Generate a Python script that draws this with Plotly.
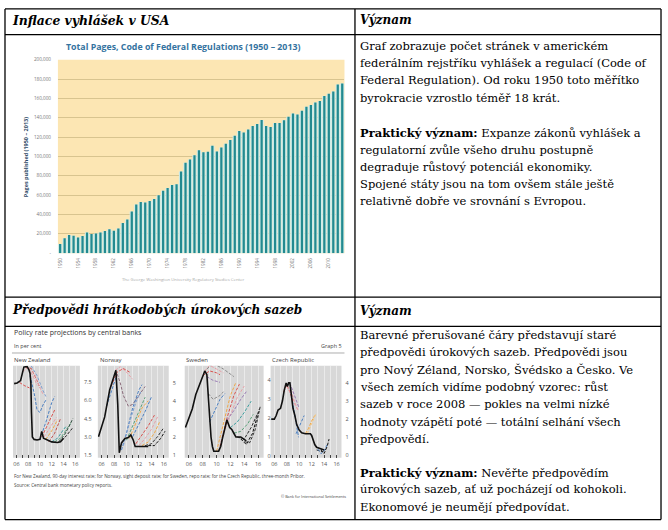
import plotly.graph_objects as go

W, H = 668, 530
def fx(x): return x / W
def fy(y): return 1 - y / H

# ---------------- DATA ----------------
cfr_years = list(range(1950, 2014))
cfr_pages = [9500, 15300, 18700, 18000, 16300, 17700, 21400, 19700, 20400, 21400,
             22800, 24800, 23100, 25500, 31300, 34700, 43200, 50300, 53000, 52400,
             54000, 56000, 60000, 64600, 67300, 70400, 71400, 84400, 93500, 97000,
             101400, 106500, 104400, 104800, 111200, 105100, 109200, 113300, 117000, 121400,
             126500, 124800, 128000, 131600, 133700, 137800, 131600, 130600, 134700, 134700,
             137400, 141200, 144600, 143500, 147300, 151400, 153400, 155800, 157500, 162600,
             165000, 167300, 174500, 175500]
cfr_ytickvals = [0, 20000, 40000, 60000, 80000, 100000, 120000, 140000, 160000, 180000, 200000]
cfr_yticktext = ["-", "20,000", "40,000", "60,000", "80,000", "100,000", "120,000",
                 "140,000", "160,000", "180,000", "200,000"]
cfr_xtickvals = list(range(1950, 2014, 4))

countries = ["New Zealand", "Norway", "Sweden", "Czech Republic"]

nz_x = [2005.6, 2006.1, 2006.7, 2007.0, 2007.25, 2007.8, 2008.1, 2008.3, 2008.45, 2008.55, 2008.7,
        2009.0, 2009.5, 2010.0, 2010.3, 2010.6, 2011.0, 2011.5, 2012.0, 2013.0, 2013.5, 2014.0]
nz_y = [7.35, 7.4, 7.6, 8.3, 8.7, 8.75, 8.5, 8.2, 7.4, 5.0, 3.0,
        2.8, 2.75, 2.8, 3.45, 2.9, 2.8, 2.7, 2.6, 2.55, 2.6, 2.9]
no_x = [2005.5, 2006.5, 2007.3, 2007.7, 2008.15, 2008.3, 2008.6, 2008.85, 2009.2, 2009.75,
        2010.3, 2010.7, 2011.1, 2011.4, 2012.2, 2013.0, 2013.5]
no_y = [2.0, 3.1, 4.6, 5.05, 5.5, 5.7, 3.8, 1.1, 1.65, 1.9,
        1.95, 2.1, 1.8, 1.45, 1.45, 1.45, 1.45]
se_x = [2005.5, 2006.0, 2006.5, 2007.0, 2007.5, 2008.0, 2008.3, 2008.6, 2008.8, 2009.0, 2009.2,
        2009.4, 2009.6, 2010.3, 2010.6, 2010.9, 2011.2, 2011.5, 2011.9, 2012.2, 2012.5, 2012.8,
        2013.5, 2014.0, 2014.3]
se_y = [1.5, 2.0, 2.5, 3.25, 3.75, 4.25, 4.5, 4.3, 3.0, 2.0, 1.0,
        0.5, 0.25, 0.25, 0.5, 1.0, 1.5, 1.9, 1.5, 1.4, 1.2, 1.0,
        1.0, 0.9, 0.8]
cz_x = [2005.5, 2006.0, 2006.3, 2006.6, 2007.0, 2007.3, 2007.6, 2007.9, 2008.1, 2008.3, 2008.5,
        2008.8, 2009.0, 2009.3, 2009.6, 2010.0, 2010.4, 2011.0, 2011.8, 2012.0, 2012.2, 2012.5,
        2012.8, 2013.2, 2013.6, 2014.0]
cz_y = [2.0, 2.0, 2.2, 2.5, 2.6, 3.0, 3.6, 4.0, 3.8, 4.0, 4.0,
        3.3, 2.6, 2.2, 1.7, 1.4, 1.25, 1.2, 1.2, 1.1, 0.9, 0.6,
        0.45, 0.4, 0.35, 0.3]

nz_proj = [
    ([2006.5, 2007.3, 2008.2], [7.45, 7.2, 7.0]),
    ([2007.0, 2008.0, 2009.0, 2009.5], [8.3, 8.7, 7.8, 7.2]),
    ([2007.5, 2008.5, 2009.5, 2010.0], [8.7, 8.6, 7.6, 7.0]),
    ([2008.0, 2009.0, 2010.0, 2010.5], [8.6, 8.2, 7.0, 6.5]),
    ([2008.3, 2009.0, 2009.5, 2010.0, 2010.5, 2011.0], [8.0, 6.6, 5.2, 5.0, 5.6, 6.0]),
    ([2008.5, 2009.5, 2010.5, 2011.0], [8.8, 8.0, 6.8, 6.3]),
    ([2010.0, 2011.0, 2012.0, 2012.5], [2.8, 4.2, 5.8, 6.3]),
    ([2010.3, 2011.5, 2012.5], [3.0, 4.2, 5.2]),
    ([2010.7, 2011.7, 2012.8], [3.0, 3.8, 4.6]),
    ([2011.0, 2012.0, 2013.0], [2.8, 3.5, 4.4]),
    ([2011.5, 2012.5, 2013.5], [2.6, 3.3, 4.5]),
    ([2012.0, 2013.0, 2014.0, 2014.5], [2.6, 2.9, 3.6, 3.9]),
    ([2012.5, 2013.5, 2014.5, 2015.2], [2.6, 2.9, 3.6, 4.1]),
    ([2013.2, 2014.2, 2015.0, 2015.6], [2.6, 3.2, 3.9, 4.5]),
    ([2013.7, 2014.5, 2015.5], [2.7, 3.1, 3.7]),
]
nz_proj_colors = ["#D9534F", "#E8A0A8", "#C0504D", "#E8A0A8", "#4A7FC1", "#7F9FCF", "#4A7FC1",
                  "#D9534F", "#E8A0A8", "#F0A848", "#C0504D", "#3E9FA0", "#5BA27A", "#2A4A3A", "#222222"]

no_proj = [
    ([2006.8, 2007.5, 2008.3], [3.7, 4.5, 5.3]),
    ([2007.5, 2008.5, 2009.5, 2010.5], [4.8, 5.6, 5.8, 5.6]),
    ([2008.2, 2009.0, 2010.0, 2011.0], [5.7, 5.9, 5.6, 5.2]),
    ([2008.5, 2009.0, 2009.5, 2010.3, 2011.0, 2012.0, 2013.0], [5.5, 5.0, 4.3, 3.7, 3.8, 4.3, 4.8]),
    ([2009.2, 2010.0, 2011.0, 2012.0, 2012.5], [1.25, 2.2, 3.6, 4.6, 4.9]),
    ([2009.5, 2010.5, 2011.5, 2012.3], [1.5, 2.8, 3.9, 4.5]),
    ([2010.0, 2011.0, 2012.0, 2013.0], [1.8, 2.6, 3.5, 4.2]),
    ([2010.5, 2011.5, 2012.5, 2013.5], [1.9, 2.7, 3.6, 4.0]),
    ([2011.0, 2012.0, 2013.0, 2014.0], [2.0, 2.7, 3.4, 4.2]),
    ([2011.5, 2012.5, 2013.5, 2014.5], [1.6, 2.1, 2.6, 3.2]),
    ([2012.0, 2013.0, 2014.0, 2015.0], [1.5, 1.9, 2.4, 3.1]),
    ([2012.5, 2013.5, 2014.5, 2015.3], [1.5, 1.7, 2.2, 2.8]),
    ([2013.0, 2014.0, 2015.0, 2016.0], [1.5, 1.6, 2.0, 2.5]),
    ([2013.5, 2014.5, 2015.5, 2016.2], [1.5, 1.5, 1.9, 2.3]),
]
no_proj_colors = ["#4A7FC1", "#D9534F", "#E8A0A8", "#8A6A7A", "#4A7FC1", "#7F9FCF", "#5BA27A",
                  "#F0A848", "#4A7FC1", "#D9534F", "#E8A0A8", "#F0A848", "#2A2A2A", "#111111"]

se_proj = [
    ([2008.0, 2009.0, 2010.0, 2010.5], [4.25, 4.5, 4.4, 4.3]),
    ([2008.3, 2009.0, 2010.0, 2011.0], [4.5, 4.8, 4.6, 4.4]),
    ([2008.6, 2009.5, 2011.0, 2012.5], [4.6, 4.9, 4.6, 4.2]),
    ([2008.6, 2009.5, 2010.5], [4.2, 4.0, 3.9]),
    ([2008.8, 2009.5, 2010.5, 2011.0], [3.3, 3.0, 3.2, 3.4]),
    ([2009.0, 2009.7, 2010.5, 2011.2], [1.8, 2.4, 3.0, 3.3]),
    ([2010.0, 2011.0, 2012.0, 2012.8], [0.25, 1.8, 3.2, 3.9]),
    ([2010.5, 2011.5, 2012.5, 2013.3], [0.5, 2.0, 3.2, 3.8]),
    ([2011.0, 2012.0, 2013.0, 2014.0], [1.2, 2.2, 3.1, 3.7]),
    ([2011.5, 2012.5, 2013.5, 2014.3], [1.9, 2.4, 3.0, 3.4]),
    ([2012.0, 2013.0, 2014.0, 2015.0], [1.5, 1.8, 2.3, 2.9]),
    ([2012.5, 2013.5, 2014.5, 2015.3], [1.2, 1.3, 1.7, 2.2]),
    ([2013.0, 2014.0, 2015.0, 2016.0], [1.0, 0.9, 1.5, 2.3]),
    ([2013.5, 2014.3, 2015.2, 2016.2], [0.9, 0.6, 1.2, 2.5]),
    ([2014.0, 2014.8, 2015.6, 2016.3], [0.75, 0.7, 1.4, 2.6]),
]
se_proj_colors = ["#D9534F", "#E8A0A8", "#8A8A8A", "#9A7CB5", "#8A8A8A", "#4A7FC1", "#F0A848",
                  "#D9534F", "#E8A0A8", "#9A7CB5", "#3E9FA0", "#5BA27A", "#2A2A2A", "#111111", "#333333"]

cz_proj = [
    ([2007.5, 2008.0, 2008.5, 2009.0], [3.5, 3.9, 3.5, 3.0]),
    ([2008.0, 2008.7, 2009.3, 2009.8], [3.8, 3.4, 2.8, 2.5]),
    ([2008.5, 2009.0, 2009.5, 2010.0], [4.0, 3.5, 3.0, 2.6]),
    ([2008.7, 2009.2, 2009.8], [3.6, 3.0, 2.5]),
    ([2008.9, 2009.3, 2009.6, 2009.9], [3.0, 2.3, 1.6, 1.0]),
    ([2009.5, 2010.0, 2010.5, 2010.8], [1.2, 1.6, 2.0, 2.2]),
    ([2011.0, 2011.5, 2012.0, 2012.5], [1.2, 1.5, 1.9, 2.2]),
    ([2011.3, 2011.8, 2012.3, 2012.7], [1.2, 1.6, 2.0, 2.3]),
    ([2012.8, 2013.3, 2013.8, 2014.3], [0.3, 0.25, 0.2, 0.35]),
    ([2013.0, 2013.5, 2014.0, 2014.5], [0.35, 0.1, 0.25, 0.6]),
    ([2013.5, 2014.0, 2014.5, 2014.8], [0.3, 0.1, 0.5, 0.9]),
]
cz_proj_colors = ["#D9534F", "#E8A0A8", "#9A7CB5", "#E8A0A8", "#4A7FC1", "#4A7FC1", "#F0A848",
                  "#F5C880", "#2A2A2A", "#4A7FC1", "#111111"]

panel_ytickvals = [[1.5, 3.0, 4.5, 6.0, 7.5], [1, 2, 3, 4, 5], [0, 1, 2, 3, 4], [0, 1, 2, 3, 4]]
panel_yticktext = [["1.5", "3.0", "4.5", "6.0", "7.5"], ["1", "2", "3", "4", "5"],
                   ["0", "1", "2", "3", "4"], ["0", "1", "2", "3", "4"]]
panel_xtickvals = list(range(2006, 2017))
panel_xticktext = ["06", "", "08", "", "10", "", "12", "", "14", "", "16"]

text_r1 = ["Graf zobrazuje počet stránek v americkém",
           "federálním rejstříku vyhlášek a regulací (Code of",
           "Federal Regulation). Od roku 1950 toto měřítko",
           "byrokracie vzrostlo téměř 18 krát.",
           "<b>Praktický význam:</b> Expanze zákonů vyhlášek a",
           "regulatorní zvůle všeho druhu postupně",
           "degraduje růstový potenciál ekonomiky.",
           "Spojené státy jsou na tom ovšem stále ještě",
           "relativně dobře ve srovnání s Evropou."]
text_r2 = ["Barevné přerušované čáry představují staré",
           "předpovědi úrokových sazeb. Předpovědi jsou",
           "pro Nový Zéland, Norsko, Švédsko a Česko. Ve",
           "všech zemích vidíme podobný vzorec: růst",
           "sazeb v roce 2008 — pokles na velmi nízké",
           "hodnoty vzápětí poté — totální selhání všech",
           "předpovědí.",
           "<b>Praktický význam:</b> Nevěřte předpovědím",
           "úrokových sazeb, ať už pocházejí od kohokoli.",
           "Ekonomové je neumějí předpovídat."]

# ---------------- FIGURE ----------------
fig = go.Figure()
shapes = []
ann = []

# Chart 1: CFR pages
fig.add_trace(go.Bar(x=cfr_years, y=cfr_pages, width=0.95, marker=dict(color="#CFEDEC", line=dict(width=0)),
                     xaxis="x", yaxis="y", hoverinfo="skip"))
fig.add_trace(go.Bar(x=cfr_years, y=cfr_pages, width=0.5, marker=dict(color="#238A8F", line=dict(width=0)),
                     xaxis="x", yaxis="y"))

layout = dict(
    width=W, height=H, margin=dict(l=0, r=0, t=0, b=0),
    paper_bgcolor="white", plot_bgcolor="rgba(0,0,0,0)",
    showlegend=False, barmode="overlay",
    xaxis=dict(domain=[fx(57), fx(344)], range=[1949.5, 2013.5], tickvals=cfr_xtickvals,
               tickangle=-90, tickfont=dict(size=4.6, color="#777", family="Open Sans"),
               showgrid=False, zeroline=False, showline=False, ticks="", anchor="y",
               ticklabelstandoff=3),
    yaxis=dict(domain=[fy(253), fy(57.5)], range=[0, 200000], tickvals=cfr_ytickvals,
               ticktext=cfr_yticktext, tickfont=dict(size=4.6, color="#777", family="Open Sans"),
               showgrid=True, gridcolor="#D8C48F", gridwidth=1, zeroline=False, showline=False,
               ticks="", anchor="x", ticklabelstandoff=6),
)
shapes.append(dict(type="rect", xref="x domain", yref="y domain", x0=0, x1=1, y0=0, y1=1,
                   fillcolor="#FCE6B3", line=dict(width=0), layer="below"))

ann.append(dict(text="<b>Total Pages, Code of Federal Regulations (1950 – 2013)</b>", x=fx(182), y=fy(45),
                xref="paper", yref="paper", showarrow=False, xanchor="center", yanchor="middle",
                font=dict(size=8.8, color="#3473A0", family="Open Sans")))
ann.append(dict(text="<b>Pages published (1950 – 2013)</b>", x=fx(25), y=fy(156), textangle=-90,
                xref="paper", yref="paper", showarrow=False, xanchor="center", yanchor="middle",
                font=dict(size=5.5, color="#2E4A66", family="Open Sans")))
ann.append(dict(text="The George Washington University Regulatory Studies Center", x=fx(182), y=fy(279),
                xref="paper", yref="paper", showarrow=False, xanchor="center", yanchor="middle",
                font=dict(size=4.3, color="#AAAAAA", family="Open Sans")))

# Chart 2 panels
panel_x = [(12, 79), (97, 168), (184, 263), (270, 341)]
panel_title_x = [11, 97, 183, 269]
panel_yrange = [[1.3, 8.8], [0.82, 5.95], [-0.1, 4.77], [-0.13, 4.94]]
actual = [(nz_x, nz_y), (no_x, no_y), (se_x, se_y), (cz_x, cz_y)]
projs = [(nz_proj, nz_proj_colors), (no_proj, no_proj_colors), (se_proj, se_proj_colors), (cz_proj, cz_proj_colors)]

for i in range(4):
    xa = "x%d" % (i + 2)
    ya = "y%d" % (i + 2)
    pj, pc = projs[i]
    for (px_, py_), c in zip(pj, pc):
        fig.add_trace(go.Scatter(x=px_, y=py_, mode="lines", xaxis=xa, yaxis=ya,
                                 line=dict(color=c, width=1, dash="3px,1.5px")))
    ax_, ay_ = actual[i]
    fig.add_trace(go.Scatter(x=ax_, y=ay_, mode="lines", xaxis=xa, yaxis=ya,
                             line=dict(color="#111111", width=1.6)))
    x0, x1 = panel_x[i]
    layout["xaxis%d" % (i + 2)] = dict(
        domain=[fx(x0), fx(x1)], range=[2005.4, 2016.8], anchor=ya,
        tickvals=panel_xtickvals, ticktext=panel_xticktext, ticks="inside", ticklen=3,
        tickcolor="#444", tickwidth=1, tickfont=dict(size=5.5, color="#555", family="Open Sans"),
        showgrid=True, gridcolor="#EAEAEA", gridwidth=1, zeroline=False, showline=False,
        ticklabelstandoff=2)
    layout["yaxis%d" % (i + 2)] = dict(
        domain=[fy(460), fy(367)], range=panel_yrange[i], anchor=xa, side="right",
        tickvals=panel_ytickvals[i], ticktext=panel_yticktext[i], ticks="",
        tickfont=dict(size=5.5, color="#555", family="Open Sans"),
        showgrid=False, zeroline=False, showline=False, ticklabelstandoff=3)
    shapes.append(dict(type="rect", xref="%s domain" % xa, yref="%s domain" % ya, x0=0, x1=1, y0=0, y1=1,
                       fillcolor="#D8D8D8", line=dict(width=0), layer="below"))
    ann.append(dict(text=countries[i], x=fx(panel_title_x[i]), y=fy(361), xref="paper", yref="paper",
                    showarrow=False, xanchor="left", yanchor="middle",
                    font=dict(size=6, color="#444", family="Open Sans")))

def txt(s, x, y, size, color="#333", family="Open Sans", anchor="left"):
    ann.append(dict(text=s, x=fx(x), y=fy(y), xref="paper", yref="paper", showarrow=False,
                    xanchor=anchor, yanchor="middle", font=dict(size=size, color=color, family=family)))

txt("Policy rate projections by central banks", 11, 333, 7, "#333")
txt("In per cent", 11, 347, 5.5, "#444")
txt("Graph 5", 344, 347, 5.5, "#444", anchor="right")
shapes.append(dict(type="line", xref="paper", yref="paper", x0=fx(11), x1=fx(344), y0=fy(354), y1=fy(354),
                   line=dict(color="#999", width=0.8)))
txt("For New Zealand, 90-day interest rate; for Norway, sight deposit rate; for Sweden, repo rate; for the Czech Republic, three-month Pribor.",
    11, 478, 4.6, "#444")
txt("Source: Central bank monetary policy reports.", 11, 488, 4.6, "#444")
txt("© Bank for International Settlements", 348, 499, 3.8, "#444", anchor="right")

# Table headers
serif = "DejaVu Serif"
txt("<b><i>Inflace vyhlášek v USA</i></b>", 9, 18, 12.4, "#000", serif)
txt("<b><i>Význam</i></b>", 358, 17, 12, "#000", serif)
txt("<b><i>Předpovědi hrátkodobých úrokových sazeb</i></b>", 9, 311, 12.1, "#000", serif)
txt("<b><i>Význam</i></b>", 358, 312, 12, "#000", serif)

r1_y = [43.3, 61, 78.3, 95.7, 131, 148.3, 165.7, 183.3, 200.5]
for s, yy in zip(text_r1, r1_y):
    txt(s, 358, yy, 11.5, "#000", serif)
r2_y = [336, 353.3, 371, 388.3, 406, 423.3, 440.7, 475, 491.7, 509.3]
for s, yy in zip(text_r2, r2_y):
    txt(s, 358, yy, 11.5, "#000", serif)

# table grid
def hline(y, x0=4, x1=661):
    shapes.append(dict(type="line", xref="paper", yref="paper", x0=fx(x0), x1=fx(x1), y0=fy(y), y1=fy(y),
                       line=dict(color="#000", width=1.3)))
def vline(x, y0=6, y1=522.5):
    shapes.append(dict(type="line", xref="paper", yref="paper", x0=fx(x), x1=fx(x), y0=fy(y0), y1=fy(y1),
                       line=dict(color="#000", width=1.3)))
for yy in [6, 32, 297.5, 327, 522.5]:
    hline(yy)
for xx in [4, 354.5, 661]:
    vline(xx)

layout["shapes"] = shapes
layout["annotations"] = ann
fig.update_layout(**layout)
fig.write_html("out.html", config={"displayModeBar": False},
               post_script="document.body.style.margin='0';document.body.style.overflow='hidden';")
